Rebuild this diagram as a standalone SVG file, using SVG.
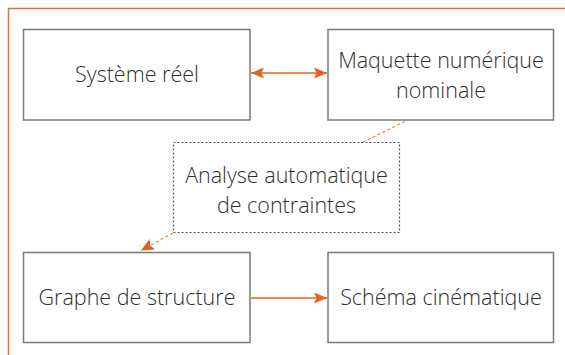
<svg xmlns="http://www.w3.org/2000/svg" width="565" height="355" viewBox="0 0 565 355">
<style>
.box{fill:#fff;stroke:#7a7a7a;stroke-width:1.5}
.dbox{fill:#fff;stroke:#555;stroke-width:1.2;stroke-dasharray:2 2}
.t{font-family:"Open Sans","Noto Sans",sans-serif;font-size:21.5px;font-weight:300;fill:#2e2e2e;text-anchor:middle}
.c{stroke:#e4621f;stroke-width:1.5;fill:none}
.cd{stroke:#e8824a;stroke-width:1.2;fill:none;stroke-dasharray:3 2.5}
</style>
<defs>
<marker id="ah" viewBox="0 0 10 10" refX="10" refY="5" markerWidth="13" markerHeight="11" markerUnits="userSpaceOnUse" orient="auto-start-reverse" preserveAspectRatio="none">
<path d="M0,0 L10,5 L0,10 L2,5 Z" fill="#e4621f"/>
</marker>
<marker id="ah2" viewBox="0 0 10 10" refX="10" refY="5" markerWidth="13" markerHeight="12" markerUnits="userSpaceOnUse" orient="auto" preserveAspectRatio="none">
<path d="M0,0 L10,5 L0,10 L2,5 Z" fill="#e4621f"/>
</marker>
</defs>
<path d="M565,8.5 H8.5 V355" stroke="#e8702a" stroke-width="1.5" fill="none"/>
<g id="connectors">
<line class="c" x1="251" y1="73" x2="327" y2="73" marker-start="url(#ah)" marker-end="url(#ah)"/>
<line class="c" x1="251" y1="298" x2="327" y2="298" marker-end="url(#ah)"/>
<line class="cd" x1="405" y1="121.5" x2="363" y2="142"/>
<line class="cd" x1="173" y1="233" x2="141" y2="250.5" marker-end="url(#ah2)"/>
</g>
<g id="n1"><rect class="box" x="23.5" y="29.5" width="226.5" height="90.5"/><text class="t" x="137" y="82">Système réel</text></g>
<g id="n2"><rect class="box" x="328" y="29.5" width="225.5" height="90.5"/><text class="t" x="441" y="68">Maquette numérique</text><text class="t" x="441" y="98">nominale</text></g>
<g id="n3"><rect class="dbox" x="173.5" y="142.5" width="226" height="90"/><text class="t" x="286.5" y="183">Analyse automatique</text><text class="t" x="286.5" y="213">de contraintes</text></g>
<g id="n4"><rect class="box" x="23.5" y="252.5" width="226.5" height="90"/><text class="t" x="137" y="305">Graphe de structure</text></g>
<g id="n5"><rect class="box" x="328" y="252.5" width="225.5" height="90"/><text class="t" x="441" y="305">Schéma cinématique</text></g>
</svg>
